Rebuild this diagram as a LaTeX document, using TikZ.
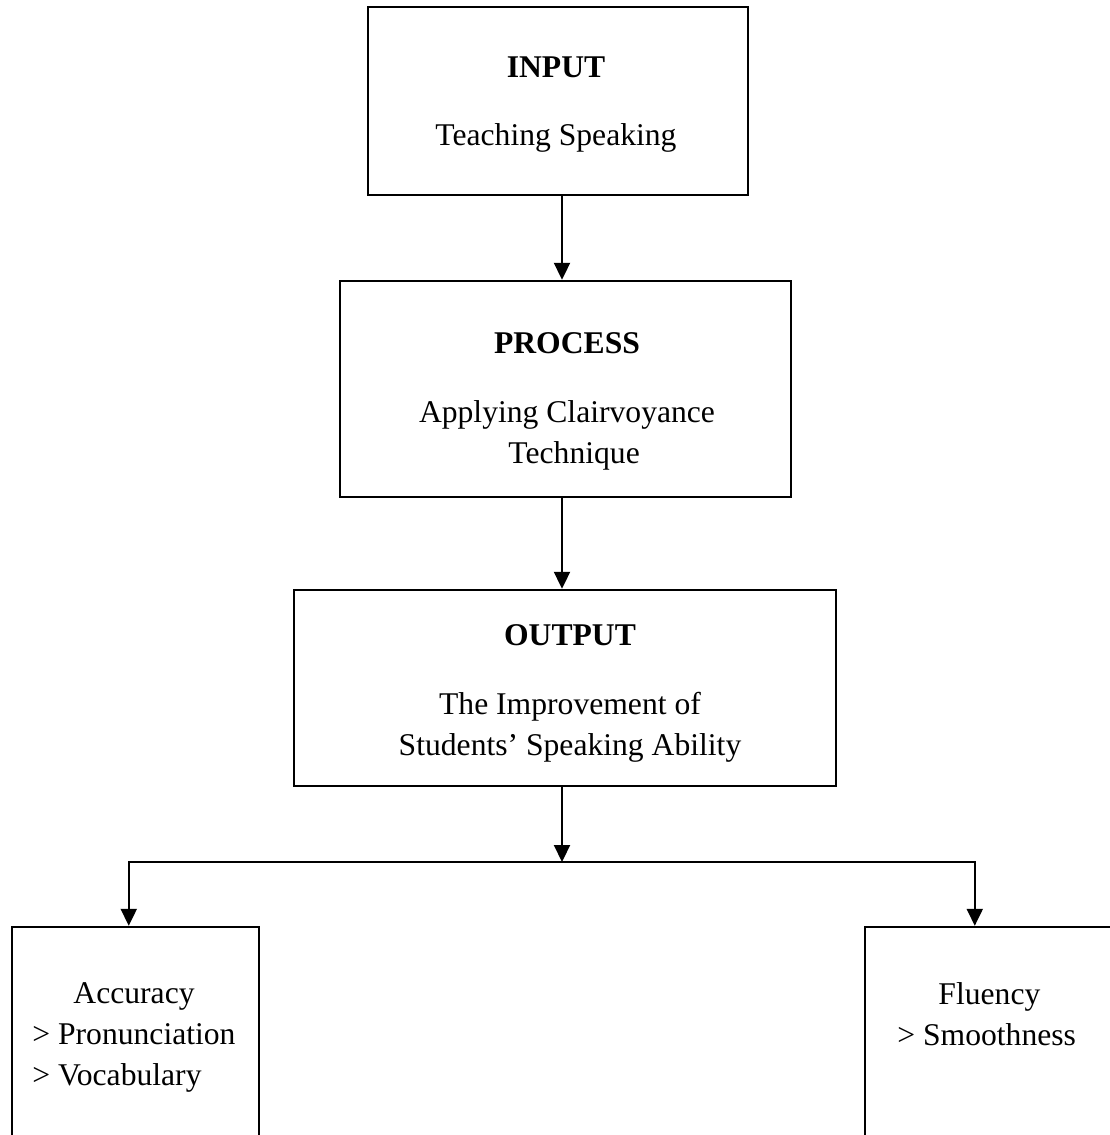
\documentclass[tikz,border=0pt]{standalone}
\usepackage{fontspec}
\setmainfont{Liberation Serif}
\usetikzlibrary{arrows.meta, positioning}

\begin{document}
\begin{tikzpicture}[
    x=0.02cm, y=-0.02cm,
    every node/.style = {font=\fontsize{18}{23.3}\selectfont},
    block/.style = {draw, line width=1.4pt, rectangle, inner sep=0pt},
    txt/.style = {align=center, anchor=base, inner sep=0pt},
    arr/.style = {-{Triangle[length=0.34cm, width=0.32cm]}, line width=1.2pt}
]
    \useasboundingbox (0,0) rectangle (1109,1135);

    \node[block, minimum width=7.6cm, minimum height=3.76cm] (input) at (558,101) {};
    \node[block, minimum width=9.02cm, minimum height=4.32cm] (process) at (565.5,389) {};
    \node[block, minimum width=10.84cm, minimum height=3.92cm] (output) at (565,688) {};
    \node[block, minimum width=4.94cm, minimum height=4.66cm] (accuracy) at (135.5,1043.5) {};
    \node[block, minimum width=5.2cm, minimum height=4.66cm] (fluency) at (995,1043.5) {};

    % base anchor sits on the last line
    \node[txt] (inputT) at (556,146) {\textbf{INPUT}\\[15.7pt] Teaching Speaking};
    \node[txt] (processT) at (567,463) {\textbf{PROCESS}\\[15.7pt] Applying Clairvoyance\\ \hspace*{0.45em}Technique};
    \node[txt] (outputT) at (570,755) {\textbf{OUTPUT}\\[15.7pt] The Improvement of\\ Students’ Speaking Ability};
    \node[txt, align=left, anchor=base west] (accuracyT) at (32,1085) {\hspace*{1.3em}Accuracy\\ > Pronunciation\\ > Vocabulary};
    \node[txt, align=left, anchor=base west] (fluencyT) at (897,1045) {\hspace*{1.3em}Fluency\\ > Smoothness};

    \coordinate (split) at (562,862);

    \draw[arr] (input.south -| split) -- (process.north -| split);
    \draw[arr] (process.south -| split) -- (output.north -| split);
    \draw[arr] (output.south -| split) -- (split);
    \draw[arr] (split) -| ([xshift=2.36cm]accuracy.north west);
    \draw[arr] (split) -| ([xshift=2.22cm]fluency.north west);
\end{tikzpicture}
\end{document}
